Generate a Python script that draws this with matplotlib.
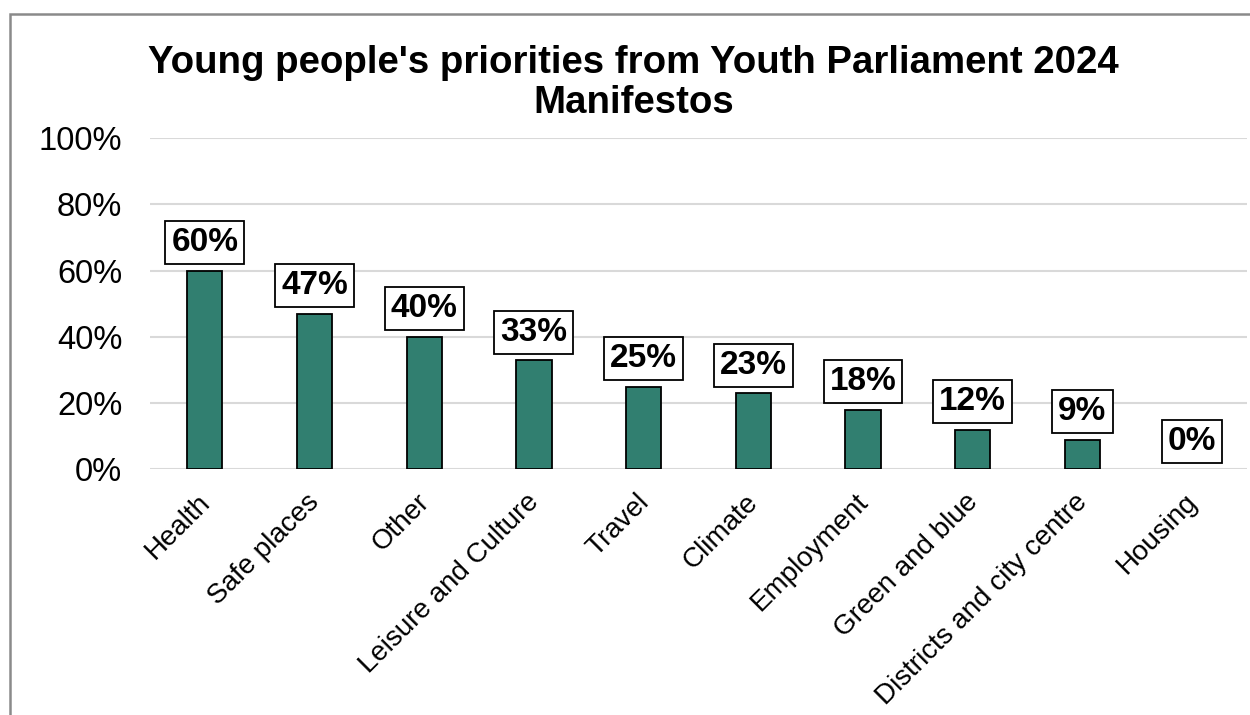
import matplotlib.pyplot as plt
import matplotlib.transforms as mtransforms
from matplotlib.patches import Rectangle
from matplotlib.ticker import PercentFormatter

plt.rcParams['font.family'] = ['Liberation Sans', 'DejaVu Sans']

# priority topics and share of manifestos mentioning each
topics = ['Health', 'Safe places', 'Other', 'Leisure and Culture', 'Travel',
          'Climate', 'Employment', 'Green and blue',
          'Districts and city centre', 'Housing']
shares = [60, 47, 40, 33, 25, 23, 18, 12, 9, 0]
y_ticks = [0, 20, 40, 60, 80, 100]

fig = plt.figure(figsize=(12.5, 7.15), dpi=100)
ax = fig.add_axes([0.12, 0.3434, 0.8776, 0.4636])

x = range(len(topics))
# no outline on empty bars
edge_w = [1.3 if v > 0 else 0 for v in shares]
ax.bar(x, shares, width=0.32, color='#317f70', edgecolor='black',
       linewidth=edge_w, zorder=3)

for i, v in zip(x, shares):
    ax.annotate(f'{v}%', (i, v), xytext=(0, 9), textcoords='offset points',
                ha='center', va='bottom', fontsize=24, fontweight='bold',
                bbox=dict(boxstyle='square,pad=0.18', fc='white',
                          ec='black', lw=1.3), zorder=4)

ax.set_xlim(-0.5, len(topics) - 0.5)
ax.set_ylim(0, 100)
ax.set_yticks(y_ticks)
ax.yaxis.set_major_formatter(PercentFormatter(decimals=0))
ax.set_xticks(list(x))
ax.set_xticklabels(topics, rotation=45, ha='right', rotation_mode='anchor',
                   fontsize=20)
ax.tick_params(axis='both', length=0)
ax.tick_params(axis='y', pad=20, labelsize=23.5)
ax.tick_params(axis='x', pad=14)
# nudge category labels a little to the left
shift = mtransforms.ScaledTranslation(-8 / 100, 0, fig.dpi_scale_trans)
for lbl in ax.get_xticklabels():
    lbl.set_transform(lbl.get_transform() + shift)
ax.grid(axis='y', color='#d9d9d9', linewidth=1.5, zorder=0)
for s in ax.spines.values():
    s.set_visible(False)

fig.text(0.507, 0.898, "Young people's priorities from Youth Parliament 2024",
         ha='center', va='baseline', fontsize=27.6, fontweight='bold')
fig.text(0.507, 0.842, "Manifestos",
         ha='center', va='baseline', fontsize=27.6, fontweight='bold')

# chart frame
fig.patches.append(Rectangle((0.008, -0.1), 1.2, 1.081, transform=fig.transFigure,
                             fill=False, edgecolor='#8a8a8a', linewidth=1.8))

fig.savefig('out.png', dpi=100)
